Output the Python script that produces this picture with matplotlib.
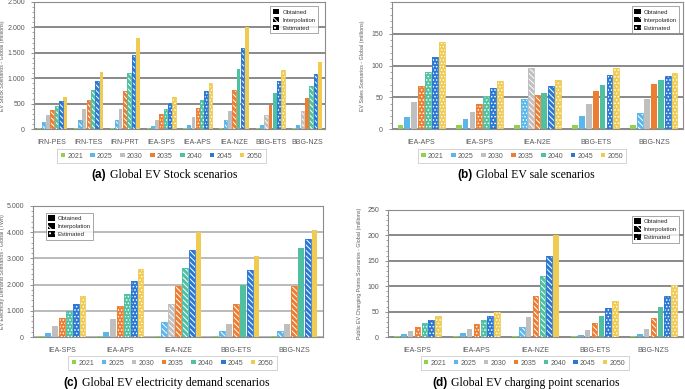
import matplotlib

matplotlib.use("Agg")

import matplotlib.pyplot as plt
import numpy as np
from matplotlib.patches import Patch
from matplotlib.ticker import FuncFormatter, MultipleLocator


YEARS = ["2021", "2025", "2030", "2035", "2040", "2045", "2050"]
YEAR_COLORS = ["#92D050", "#5BB6EA", "#BFBFBF", "#ED7D31", "#4FC1A0", "#2B78D4", "#EFCB52"]

# O = obtained, I = interpolation, E = estimated
STOCK_SCENARIOS = ["IRN-PES", "IRN-TES", "IRN-PRT", "IEA-SPS", "IEA-APS", "IEA-NZE", "BBG-ETS", "BBG-NZS"]
STOCK_VALUES = [
    [16, 140, 267, 367, 460, 560, 633],
    [16, 180, 385, 580, 760, 945, 1120],
    [16, 180, 385, 745, 1095, 1450, 1790],
    [16, 60, 180, 300, 400, 510, 630],
    [16, 75, 240, 413, 580, 755, 915],
    [16, 173, 360, 775, 1180, 1600, 2000],
    [16, 75, 280, 473, 705, 940, 1170],
    [16, 75, 360, 613, 855, 1090, 1310],
]
STOCK_STYLES = ["OIOIIIO", "OIOIIIO", "OIOIIIO", "OOOEEEE", "OOOEEEE", "OIOIOIO", "OOIOOEE", "OOIOIIO"]

SALES_SCENARIOS = ["IEA-APS", "IEA-SPS", "IEA-N2E", "BBG-ETS", "BBG-NZS"]
SALES_VALUES = [
    [6.6, 19.5, 43, 67, 90, 114, 137],
    [6.6, 16, 27.5, 39, 51.5, 64, 76],
    [6.6, 47, 96, 53, 56, 67, 77],
    [6.6, 20.5, 39.5, 60, 70, 85, 96],
    [6.6, 25, 47, 71, 77, 83, 88],
]
SALES_STYLES = ["OOOEEEE", "OOOEEEE", "OEIIOIE", "OOOOOEE", "OIOOOEE"]

DEMAND_SCENARIOS = ["IEA-SPS", "IEA-APS", "IEA-NZE", "BBG-ETS", "BBG-NZS"]
DEMAND_VALUES = [
    [50, 140, 420, 715, 980, 1250, 1560],
    [50, 180, 680, 1175, 1635, 2130, 2600],
    [50, 560, 1250, 1940, 2630, 3320, 3990],
    [50, 230, 485, 1250, 1980, 2550, 3090],
    [50, 230, 485, 1940, 3380, 3740, 4080],
]
DEMAND_STYLES = ["OOOEEEE", "OOOEEEE", "OIIIIIO", "OIOIOIO", "OIOIOIO"]

CHARGING_SCENARIOS = ["IEA-SPS", "IEA-APS", "IEA-NZE", "BBG-ETS", "BBG-NZS"]
CHARGING_VALUES = [
    [1.8, 5, 12.5, 20, 27, 34, 41],
    [1.8, 7, 16, 25, 33.5, 41, 49],
    [1.8, 20, 39.5, 80, 120, 160, 200],
    [1.8, 4.6, 13, 28, 41, 57, 71],
    [1.8, 5, 16, 38, 59, 81, 103],
]
CHARGING_STYLES = ["OOOEEEE", "OOOEEEE", "OIOIIIO", "OOOIOEE", "OOOIOEE"]

HATCHES = {"O": None, "I": "\\\\\\\\\\\\", "E": "....."}

plt.rcParams["hatch.linewidth"] = 0.7
plt.rcParams["font.family"] = ["Liberation Sans", "DejaVu Sans"]

GRAY_TEXT = "#595959"


def thousands(v, pos):
    return f"{int(round(v)):,}".replace(",", ".")


def draw_panel(ax, scenarios, values, styles, ymax, major, minor, ylabel, label_x,
               grid_color, legend_anchor, pattern_loc, pattern_anchor):
    values = np.array(values)
    x = np.arange(len(scenarios))
    step = 0.118
    width = 0.1
    offsets = (np.arange(len(YEARS)) - 3) * step

    for j, color in enumerate(YEAR_COLORS):
        for i in range(len(scenarios)):
            style = styles[i][j]
            xpos = x[i] + offsets[j]
            if style == "O":
                ax.bar(xpos, values[i, j], width=width, color=color, lw=0, zorder=3)
            else:
                ax.bar(xpos, values[i, j], width=width, facecolor=color,
                       edgecolor="white", hatch=HATCHES[style], lw=0, zorder=3)
                ax.bar(xpos, values[i, j], width=width, fill=False,
                       edgecolor=color, lw=0.6, zorder=4)

    ax.set_xlim(-0.5, len(scenarios) - 0.5)
    ax.set_ylim(0, ymax)
    ax.set_xticks(x)
    ax.set_xticklabels(scenarios, fontsize=5, color=GRAY_TEXT)
    ax.tick_params(axis="x", length=0, pad=7)
    ax.yaxis.set_major_locator(MultipleLocator(major))
    ax.yaxis.set_minor_locator(MultipleLocator(minor))
    ax.yaxis.set_major_formatter(FuncFormatter(thousands))
    ax.tick_params(axis="y", labelsize=5, labelcolor=GRAY_TEXT, length=2.5,
                   width=0.6, color="#7f7f7f", pad=4)
    ax.tick_params(axis="y", which="minor", length=1.5, width=0.5, color="#7f7f7f")
    ax.set_ylabel(ylabel, fontsize=3.8, color=GRAY_TEXT)
    ax.yaxis.set_label_coords(label_x, 0.5)
    ax.grid(axis="y", which="major", color=grid_color, lw=1.3)
    ax.set_axisbelow(True)
    for spine in ax.spines.values():
        spine.set_color("#8c8c8c")
        spine.set_linewidth(0.8)

    year_handles = [Patch(facecolor=c, edgecolor="none") for c in YEAR_COLORS]
    leg = ax.legend(year_handles, YEARS, loc="upper center", bbox_to_anchor=legend_anchor,
                    ncol=7, fontsize=5, frameon=True, fancybox=False,
                    handlelength=0.6, handleheight=0.6, handletextpad=0.35,
                    columnspacing=1.1, borderpad=0.45, labelcolor=GRAY_TEXT)
    leg.get_frame().set_edgecolor("#bfbfbf")
    leg.get_frame().set_linewidth(0.6)
    ax.add_artist(leg)

    pattern_handles = [
        Patch(facecolor="black", edgecolor="white", lw=0),
        Patch(facecolor="black", edgecolor="white", hatch="\\\\\\", lw=0),
        Patch(facecolor="black", edgecolor="white", hatch="...", lw=0),
    ]
    pleg = ax.legend(pattern_handles, ["Obtained", "Interpolation", "Estimated"],
                     loc=pattern_loc, bbox_to_anchor=pattern_anchor, fontsize=4.3,
                     frameon=True, fancybox=False, handlelength=1.1, handleheight=1.1,
                     handletextpad=0.5, borderpad=0.4, labelspacing=0.35,
                     labelcolor="#262626")
    pleg.get_frame().set_edgecolor("#7f7f7f")
    pleg.get_frame().set_linewidth(0.6)
    pleg.set_zorder(6)


def caption(fig, x_px, y_px, tag, text):
    t1 = fig.text(x_px / 685, 1 - y_px / 389, tag, fontsize=8.5, fontweight="bold",
                  family="Liberation Sans", ha="left", va="center")
    fig.axes[0].annotate(text, xy=(1, 0.5), xycoords=t1, xytext=(3, 0),
                         textcoords="offset points", fontsize=8.5,
                         family="Liberation Serif", ha="left", va="center",
                         annotation_clip=False)


fig = plt.figure(figsize=(6.85, 3.89), dpi=100)

ax_a = fig.add_axes([34 / 685, 1 - 129 / 389, 291 / 685, 127 / 389])
ax_b = fig.add_axes([392 / 685, 1 - 129 / 389, 291 / 685, 127 / 389])
ax_c = fig.add_axes([33 / 685, 1 - 337 / 389, 290 / 685, 131 / 389])
ax_d = fig.add_axes([388 / 685, 1 - 337 / 389, 295 / 685, 127 / 389])

draw_panel(ax_a, STOCK_SCENARIOS, STOCK_VALUES, STOCK_STYLES, 2500, 500, 100,
           "EV Stock Scenarios - Global (millions)", -0.1, "#808080",
           (0.438, -0.134), "upper right", (0.986, 0.99))
draw_panel(ax_b, SALES_SCENARIOS, SALES_VALUES, SALES_STYLES, 200, 50, 10,
           "EV Sales Scenarios - Global (millions)", -0.093, "#808080",
           (0.448, -0.134), "upper right", (0.997, 0.99))
ax_b.set_yticks([0, 50, 100, 150])
draw_panel(ax_c, DEMAND_SCENARIOS, DEMAND_VALUES, DEMAND_STYLES, 5000, 1000, 200,
           "EV Electricity Demand Scenarios - Global (TWh)", -0.097, "#b5b5b5",
           (0.481, -0.122), "upper left", (0.034, 0.969))
draw_panel(ax_d, CHARGING_SCENARIOS, CHARGING_VALUES, CHARGING_STYLES, 250, 50, 10,
           "Public EV Charging Points Scenarios - Global (millions)", -0.088, "#808080",
           (0.463, -0.126), "upper right", (0.997, 0.976))

caption(fig, 91, 175, "(a)", "Global EV Stock scenarios")
caption(fig, 457, 175, "(b)", "Global EV sale scenarios")
caption(fig, 63, 383, "(c)", "Global EV electricity demand scenarios")
caption(fig, 432, 383, "(d)", "Global EV charging point scenarios")

fig.savefig("out.png", dpi=100)
